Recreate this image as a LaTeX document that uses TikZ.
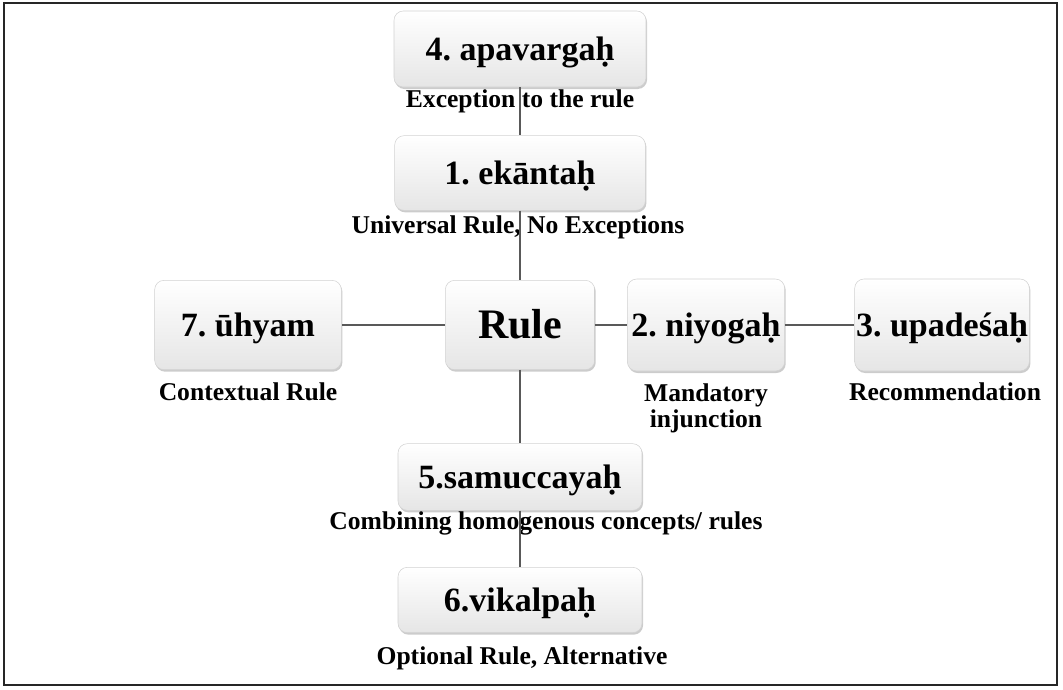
\documentclass[tikz,border=0pt]{standalone}
\usepackage{fontspec}
\setmainfont{Liberation Serif}
\usetikzlibrary{shadows}

\tikzset{
  box/.style={rectangle, rounded corners=7pt, draw=gray!35, top color=white, bottom color=gray!20,
    drop shadow={shadow xshift=0.8pt, shadow yshift=-1.5pt, opacity=0.4},
    font=\fontsize{25.5}{30}\selectfont\bfseries\frenchspacing, inner sep=0pt,
    text height=16.8pt, text depth=0pt},
  tag/.style={font=\fontsize{19.2}{19.5}\selectfont\bfseries, align=center},
  link/.style={draw=gray!70!black, line width=1pt}
}

\begin{document}
\begin{tikzpicture}[x=0.75pt,y=-0.75pt]
    \useasboundingbox (0,0) rectangle (1063,689);
    % Frame
    \draw[line width=1.5pt, black!85] (4,3) rectangle (1057,685);

    % Boxes
    \node[box, minimum width=189pt, minimum height=57pt] (apa) at (520,49) {4. apavargaḥ};
    \node[box, minimum width=188pt, minimum height=56pt] (eka) at (520,173) {1. ekāntaḥ};
    \node[box, minimum width=112pt, minimum height=67pt, text height=20.8pt,
      font=\fontsize{31.5}{36}\selectfont\bfseries] (rule) at (520,325) {Rule};
    \node[box, minimum width=140pt, minimum height=67pt] (uhy) at (248,325) {7. ūhyam};
    \node[box, minimum width=118pt, minimum height=69pt] (niy) at (706,325) {2. niyogaḥ};
    \node[box, minimum width=131pt, minimum height=69pt] (upa) at (942,325) {3. upadeśaḥ};
    \node[box, minimum width=183pt, minimum height=50pt] (sam) at (520,477) {5.samuccayaḥ};
    \node[box, minimum width=183pt, minimum height=49pt] (vik) at (520,600) {6.vikalpaḥ};

    % Labels
    \node[tag] (apaL) at (520,101) {Exception to the rule};
    \node[tag] (ekaL) at (518,227) {Universal Rule, No Exceptions};
    \node[tag] (uhyL) at (248,392) {Contextual Rule};
    \node[tag] (niyL) at (706,408) {Mandatory\\injunction};
    \node[tag] (upaL) at (945,392) {Recommendation};
    \node[tag] (samL) at (546,523) {Combining homogenous concepts/ rules};
    \node[tag] (vikL) at (522,658) {Optional Rule, Alternative};

    % Links
    \draw[link] (apa) -- (eka);
    \draw[link] (eka) -- (rule);
    \draw[link] (rule) -- (uhy);
    \draw[link] (rule) -- (niy);
    \draw[link] (niy) -- (upa);
    \draw[link] (rule) -- (sam);
    \draw[link] (sam) -- (vik);
\end{tikzpicture}
\end{document}
